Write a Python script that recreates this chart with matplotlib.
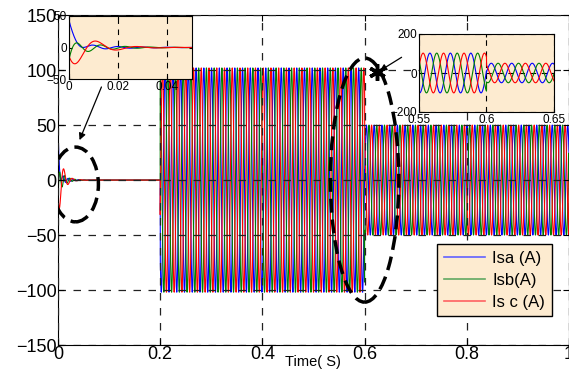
import numpy as np
import matplotlib
matplotlib.use('Agg')
import matplotlib.pyplot as plt
from matplotlib.patches import Ellipse
from matplotlib.lines import Line2D

plt.rcParams['font.family'] = ['Liberation Sans', 'DejaVu Sans']

# values
phases = ['Isa (A)', 'Isb(A)', 'Is c (A)']
colors = ['#0000ff', '#008000', '#ff0000']
legend_colors = ['#6262ff', '#62a862', '#ff6262']
shift = [-2 * np.pi / 3, 2 * np.pi / 3, 0.0]   # phase offsets
seg_t0 = [0.2, 0.6]
seg_t1 = [0.6, 1.0]
seg_amp = [102, 50]
freq = 66.0
# start-up transient (t < 0.2): offset start, offset decay, ring amp, ring decay, ring freq, ring phase
tr_a0 = [37, -15, 0]
tr_tau0 = [0.0025, 0.0015, 0.001]
tr_a1 = [6, 12, -35]
tr_tau1 = [0.015, 0.012, 0.009]
tr_f = [100, 100, 60]
tr_ph = [np.pi / 2, -0.314, 0.4]

x_ticks = [0, 0.2, 0.4, 0.6, 0.8, 1]
y_ticks = [-150, -100, -50, 0, 50, 100, 150]

t = np.linspace(0, 1, 40001)


def current(k):
    i = np.zeros_like(t)
    for a, b, A in zip(seg_t0, seg_t1, seg_amp):
        m = (t >= a) & (t < b)
        i[m] = -A * np.cos(2 * np.pi * freq * t[m] + shift[k])
    m = t < 0.2
    tm = t[m]
    i[m] = tr_a0[k] * np.exp(-tm / tr_tau0[k]) + \
        tr_a1[k] * np.exp(-tm / tr_tau1[k]) * np.sin(2 * np.pi * tr_f[k] * tm + tr_ph[k])
    return i


I = [current(k) for k in range(3)]

fig = plt.figure(figsize=(5.69, 3.69), dpi=100)
ax = fig.add_axes([0.102, 0.065, 0.898, 0.894])
for k in range(3):
    ax.plot(t, I[k], color=colors[k], lw=0.8, zorder=2)
ax.set_xlim(0, 1)
ax.set_ylim(-150, 150)
ax.set_xticks(x_ticks)
ax.set_xticklabels(['0', '0.2', '0.4', '0.6', '0.8', '1'])
ax.set_yticks(y_ticks)
ax.tick_params(direction='in', labelsize=13, length=4, pad=1, top=True, right=True)
ax.grid(True, color='#222222', ls=(0, (6, 6)), lw=0.9, zorder=3)
ax.set_axisbelow(False)
fig.text(313 / 569, 0.0, 'Time( S)', ha='center', va='bottom', fontsize=10.5)

handles = [Line2D([], [], color=c, lw=1.2) for c in legend_colors]
leg = ax.legend(handles, phases, loc='upper left', bbox_to_anchor=(437 / 569, 1 - 244 / 369),
                bbox_transform=fig.transFigure, borderaxespad=0,
                fontsize=12, fancybox=False, framealpha=1, facecolor='#fdebd0', edgecolor='black',
                handlelength=2.5, borderpad=0.4, labelspacing=0.42, handletextpad=0.4)
leg.get_frame().set_linewidth(1.0)
leg.set_zorder(10)

# dashed ellipses and arrows
ax.add_patch(Ellipse((0.034, -4), 0.09, 68, fill=False, ls=(0, (4, 2)), lw=2.5, color='black', zorder=5))
ax.add_patch(Ellipse((0.6, 0), 0.134, 222, angle=0, fill=False, ls=(0, (4, 2)), lw=2.5, color='black', zorder=5))
ax.annotate('', xy=(0.04, 34), xytext=(0.087, 87), arrowprops=dict(arrowstyle='-|>', color='black', lw=0.9), zorder=6)
ax.annotate('', xy=(0.625, 98), xytext=(0.677, 113), arrowprops=dict(arrowstyle='-|>', color='black', lw=0.9), zorder=6)
ax.plot([0.625], [98], marker=(6, 2, 0), ms=12, mew=2.5, color='black', zorder=7)

# left inset
a1 = fig.add_axes([69 / 569, 1 - 79 / 369, 123 / 569, 63 / 369])
a1.set_facecolor('#fdebd0')
for k in range(3):
    a1.plot(t, I[k], color=colors[k], lw=0.8)
a1.set_xlim(0, 0.05)
a1.set_ylim(-50, 50)
a1.set_xticks([0, 0.02, 0.04])
a1.set_xticklabels(['0', '0.02', '0.04'])
a1.set_yticks([-50, 0, 50])
a1.tick_params(direction='in', labelsize=8.5, length=2, pad=1.5, top=True, right=True)
a1.grid(True, axis='x', color='black', ls=(0, (5, 5)), lw=0.8)

# right inset
a2 = fig.add_axes([419 / 569, 1 - 112 / 369, 135 / 569, 78 / 369])
a2.set_facecolor('#fdebd0')
for k in range(3):
    a2.plot(t, I[k], color=colors[k], lw=0.8)
a2.set_xlim(0.55, 0.65)
a2.set_ylim(-200, 200)
a2.set_xticks([0.55, 0.6, 0.65])
a2.set_xticklabels(['0.55', '0.6', '0.65'])
a2.set_yticks([-200, 0, 200])
a2.tick_params(direction='in', labelsize=8.5, length=2, pad=1.5, top=True, right=True)
a2.grid(True, color='black', ls=(0, (5, 5)), lw=0.8)

fig.savefig('out.png', dpi=100)
